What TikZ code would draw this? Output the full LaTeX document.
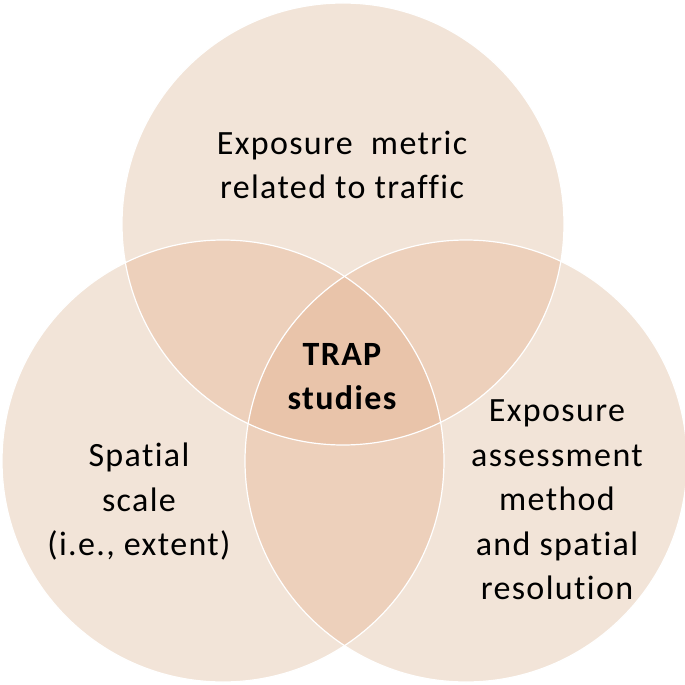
\documentclass[tikz,border=0pt]{standalone}
\usepackage{fontspec}
\setmainfont[Ligatures=NoCommon]{Carlito}
\newfontfamily\spaced[LetterSpace=4,Ligatures=NoCommon]{Carlito}
\definecolor{one}{RGB}{242,228,216}
\definecolor{two}{RGB}{237,208,187}
\definecolor{three}{RGB}{233,196,170}
\begin{document}
\begin{tikzpicture}[x=1pt,y=-1pt,
  lbl/.style={align=center,font=\fontsize{34}{44.5}\spaced,text=black,inner sep=0pt},
  edge/.style={draw=white,line width=1.2pt}]
\useasboundingbox (0,0) rectangle (685,685);
\def\R{221}
\coordinate (T) at (343,224);
\coordinate (L) at (223,461);
\coordinate (Rr) at (466,461);
\fill[one] (T) circle (\R);
\fill[one] (L) circle (\R);
\fill[one] (Rr) circle (\R);
\begin{scope}\clip (T) circle (\R); \fill[two] (L) circle (\R); \fill[two] (Rr) circle (\R); \end{scope}
\begin{scope}\clip (L) circle (\R); \fill[two] (Rr) circle (\R); \end{scope}
\begin{scope}\clip (T) circle (\R); \clip (L) circle (\R); \fill[three] (Rr) circle (\R); \end{scope}
\draw[edge] (T) circle (\R);
\draw[edge] (L) circle (\R);
\draw[edge] (Rr) circle (\R);
\node[lbl] (top) at (342,165) {Exposure\ \ metric\\related to traffic};
\node[lbl,font=\fontsize{34}{44}\spaced\bfseries] (mid) at (342,377) {TRAP\\studies};
\node[lbl] (left) at (139,502) {Spatial\\scale\\(i.e., extent)};
\node[lbl] (right) at (557,500) {Exposure\\assessment\\method\\and spatial\\resolution};
\end{tikzpicture}
\end{document}
